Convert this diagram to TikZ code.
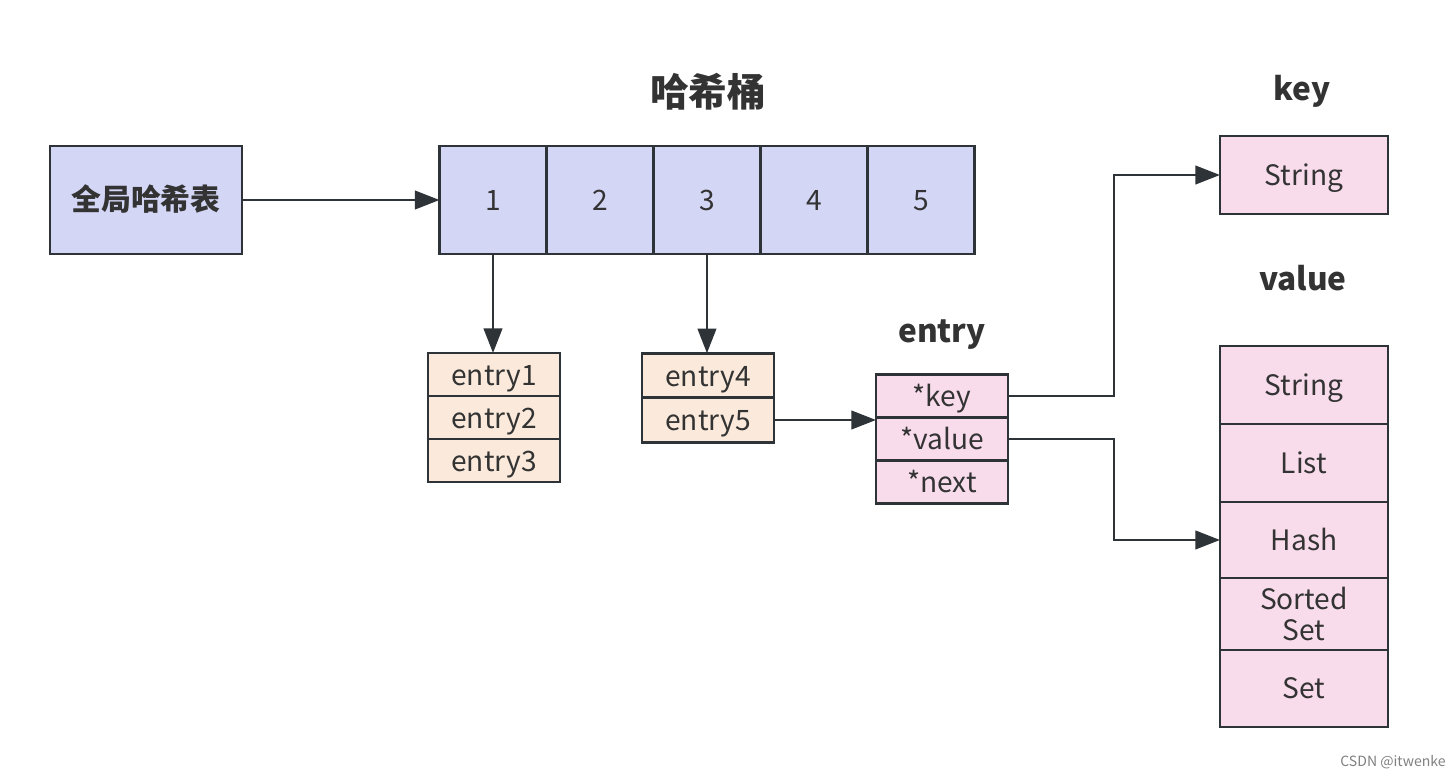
\documentclass[tikz,border=0pt]{standalone}
\usepackage{fontspec}
\setmainfont{Noto Sans CJK SC}
\usetikzlibrary{positioning,arrows.meta}
\definecolor{linec}{HTML}{2E3338}
\definecolor{textc}{HTML}{333333}
\definecolor{bluef}{HTML}{D4D6F6}
\definecolor{peachf}{HTML}{FBEADB}
\definecolor{pinkf}{HTML}{F8DCEB}

\begin{document}
\begin{tikzpicture}[x=0.02cm, y=-0.02cm,
  box/.style={draw=linec, line width=1.6pt, text=textc, inner sep=0pt, outer sep=0pt,
    align=center, font=\fontsize{16}{18}\selectfont, text height=14pt, text depth=2pt},
  bucket/.style={box, fill=bluef, minimum width=2.14cm, minimum height=2.16cm},
  entrybox/.style={box, fill=peachf, minimum width=2.64cm, minimum height=0.86cm},
  fieldbox/.style={box, fill=pinkf, minimum width=2.64cm, minimum height=0.86cm},
  typebox/.style={box, fill=pinkf, minimum width=3.36cm, minimum height=1.56cm},
  heading/.style={text=textc, font=\bfseries\fontsize{18}{20}\selectfont},
  arr/.style={-{Triangle[length=14pt,width=10.5pt]}, draw=linec, line width=1.5pt}]
\useasboundingbox (0,0) rectangle (1454,778);

% global table and buckets
\node (tab)[bucket, minimum width=3.84cm, font=\bfseries\fontsize{17}{20}\selectfont] at (146,200) {全局哈希表};
\node (title)[heading, font=\bfseries\fontsize{22}{24}\selectfont] at (708,92) {哈希桶};
\node (b1)[bucket] at (493,200) {1};
\node (b2)[bucket] [right=0pt of b1] {2};
\node (b3)[bucket] [right=0pt of b2] {3};
\node (b4)[bucket] [right=0pt of b3] {4};
\node (b5)[bucket] [right=0pt of b4] {5};

% entry chains
\node (e1)[entrybox] at (494,374.5) {entry1};
\node (e2)[entrybox] [below=0pt of e1] {entry2};
\node (e3)[entrybox] [below=0pt of e2] {entry3};
\node (e4)[entrybox, minimum height=0.89cm] at (708,375.5) {entry4};
\node (e5)[entrybox, minimum height=0.89cm] [below=0pt of e4] {entry5};

% entry struct
\node (elab)[heading] at (942,335) {entry};
\node (pk)[fieldbox] at (942,396) {*key};
\node (pv)[fieldbox] [below=0pt of pk] {*value};
\node (pn)[fieldbox] [below=0pt of pv] {*next};

% key and value types
\node (klab)[heading] at (1302,91) {key};
\node (ks)[typebox] at (1304,175) {String};
\node (vlab)[heading] at (1303,278) {value};
\node (v1)[typebox] at (1304,385) {String};
\node (v2)[typebox] [below=0pt of v1] {List};
\node (v3)[typebox, minimum height=1.52cm] [below=0pt of v2] {Hash};
\node (v4)[typebox, minimum height=1.44cm, text height=, text depth=] [below=0pt of v3] {Sorted\\Set};
\node (v5)[typebox, minimum height=1.54cm] [below=0pt of v4] {Set};

\node (mark)[text=gray, font=\fontsize{8}{9}\selectfont] at (1393,762) {CSDN @itwenke};

\draw[arr] (tab) -- (b1);
\draw[arr] (b1) -- (b1 |- e1.north);
\draw[arr] (b3) -- (b3 |- e4.north);
\draw[arr] (e5) -- (e5 -| pk.south west);
\draw[arr] (pk.east) -- ++(106,0) |- (ks);
\draw[arr] (pv.east) -- ++(106,0) |- (v3);
\end{tikzpicture}
\end{document}
